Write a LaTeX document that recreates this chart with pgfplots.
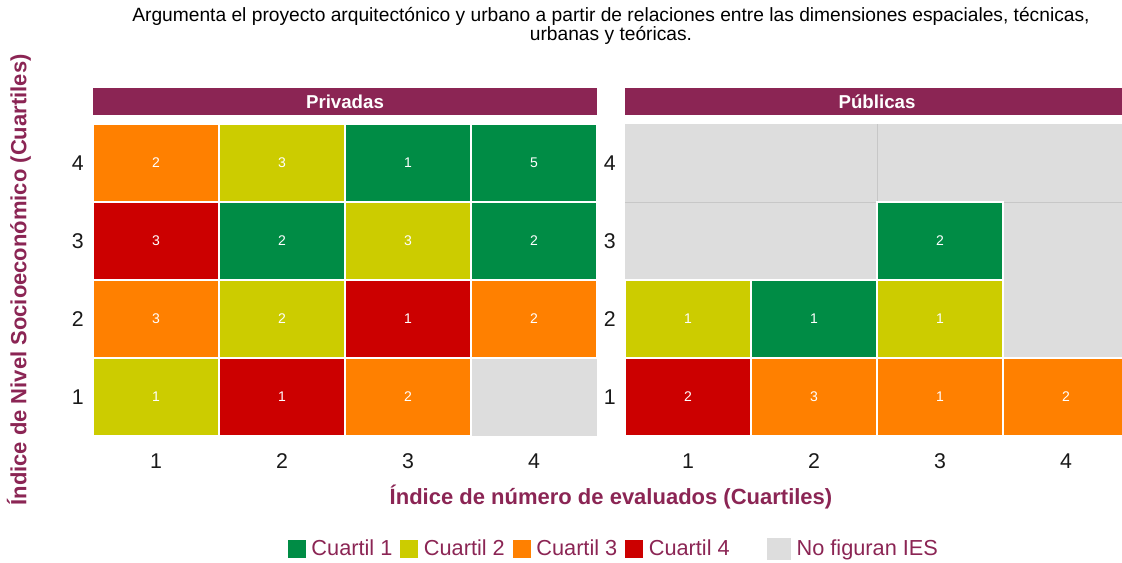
\documentclass[border=0pt]{standalone}
\usepackage{fontspec}
\setmainfont{Liberation Sans}
\usepackage{pgfplots}
\pgfplotsset{compat=1.18}
\usepackage{pgfplotstable}

\definecolor{qa}{HTML}{008C45}
\definecolor{qb}{HTML}{CCCC00}
\definecolor{qc}{HTML}{FF8000}
\definecolor{qd}{HTML}{CC0000}
\definecolor{nf}{HTML}{DDDDDD}
\definecolor{mar}{HTML}{8B2554}

\pgfdeclareplotmark{tile}{%
  \pgfpathrectangle{\pgfpoint{-47.25pt}{-29.25pt}}{\pgfpoint{94.5pt}{58.5pt}}%
  \pgfusepathqfillstroke}

% Privadas: x = evaluados quartile, y = socioeconomic quartile, cat = colour class, n = count
\pgfplotstableread{
x y cat n
1 4 c 2
2 4 b 3
3 4 a 1
4 4 a 5
1 3 d 3
2 3 a 2
3 3 b 3
4 3 a 2
1 2 c 3
2 2 b 2
3 2 d 1
4 2 c 2
1 1 b 1
2 1 d 1
3 1 c 2
}\priv

% Publicas
\pgfplotstableread{
x y cat n
3 3 a 2
1 2 b 1
2 2 a 1
3 2 b 1
1 1 d 2
2 1 c 3
3 1 c 1
4 1 c 2
}\publ

\pgfplotsset{
  tilepanel/.style={
    width=378pt, height=234pt, scale only axis,
    xmin=0.5, xmax=4.5, ymin=0.5, ymax=4.5,
    axis line style={draw=none}, tick style={draw=none}, major tick length=0pt,
    xtick={1,2,3,4}, ytick={1,2,3,4},
    /pgf/number format/assume math mode=true,
    tick label style={font=\fontsize{16}{18}\selectfont, text=black!90},
    xticklabel style={yshift=-9.75pt},
    yticklabel style={xshift=-3.5pt},
    axis background/.style={fill=nf},
    clip=false,
  },
  tileplot/.style={
    scatter, only marks, scatter src=explicit symbolic, forget plot,
    scatter/classes={
      a={mark=tile, fill=qa, draw=white, line width=1.5pt},
      b={mark=tile, fill=qb, draw=white, line width=1.5pt},
      c={mark=tile, fill=qc, draw=white, line width=1.5pt},
      d={mark=tile, fill=qd, draw=white, line width=1.5pt}},
  },
  countplot/.style={
    only marks, mark=none, forget plot, nodes near coords,
    point meta=explicit symbolic,
    nodes near coords style={anchor=center, text=white, font=\fontsize{10.5}{12}\selectfont},
  },
}

\begin{document}
\begin{tikzpicture}[x=0.75pt, y=0.75pt]
\path[use as bounding box, clip] (0,0) rectangle (1122,563);

% Title
\node[align=center, font=\fontsize{14.4}{13.5}\selectfont, text=black] at (611,537)
  {Argumenta el proyecto arquitectónico y urbano a partir de relaciones entre las dimensiones espaciales, técnicas,\\urbanas y teóricas.};

% Left panel
\begin{axis}[tilepanel, name=L, at={(69.75pt,95.25pt)}, anchor=south west,
  legend columns=5,
  legend style={at={(1.0317,-0.362)}, anchor=center, draw=none, fill=none,
    font=\fontsize{16.3}{18}\selectfont, text=mar,
    nodes={inner sep=0pt},
    /tikz/every odd column/.append style={column sep=4.5pt},
    /tikz/every even column/.append style={column sep=6pt}},
  ]
\addplot[tileplot] table[x=x, y=y, meta=cat] {\priv};
\addplot[countplot] table[x=x, y=y, meta=n] {\priv};
\addlegendimage{legend image code/.code={\fill[qa] (0pt,-6.4pt) rectangle (12.75pt,6.4pt);}}
\addlegendentry{Cuartil 1}
\addlegendimage{legend image code/.code={\fill[qb] (0pt,-6.4pt) rectangle (12.75pt,6.4pt);}}
\addlegendentry{Cuartil 2}
\addlegendimage{legend image code/.code={\fill[qc] (0pt,-6.4pt) rectangle (12.75pt,6.4pt);}}
\addlegendentry{Cuartil 3}
\addlegendimage{legend image code/.code={\fill[qd] (0pt,-6.4pt) rectangle (12.75pt,6.4pt);}}
\addlegendentry{Cuartil 4\rule{22pt}{0pt}}
\addlegendimage{legend image code/.code={\fill[nf] (0pt,-8pt) rectangle (17.25pt,8pt);}}
\addlegendentry{No figuran IES}
\end{axis}

% Right panel
\begin{axis}[tilepanel, name=R, at={(468.75pt,95.25pt)}, anchor=south west]
\draw[color=black!22, line width=0.6pt] (axis cs:0.5,3.5) -- (axis cs:4.5,3.5);
\draw[color=black!22, line width=0.6pt] (axis cs:2.5,3.5) -- (axis cs:2.5,4.5);
\draw[color=black!22, line width=0.6pt] (axis cs:3.5,1.5) -- (axis cs:4.5,1.5);
\addplot[tileplot] table[x=x, y=y, meta=cat] {\publ};
\addplot[countplot] table[x=x, y=y, meta=n] {\publ};
\end{axis}

% Strips
\fill[mar] (93,448) rectangle (597,475);
\node[font=\bfseries\fontsize{14}{16}\selectfont, text=white] at (345,461.5) {Privadas};
\fill[mar] (625,448) rectangle (1129,475);
\node[font=\bfseries\fontsize{14}{16}\selectfont, text=white] at (877,461.5) {Públicas};

% Axis titles
\node[font=\bfseries\fontsize{16.5}{18}\selectfont, text=mar] at (611,66)
  {Índice de número de evaluados (Cuartiles)};
\node[font=\bfseries\fontsize{16.5}{18}\selectfont, text=mar, rotate=90] at (19,283)
  {Índice de Nivel Socioeconómico (Cuartiles)};
\end{tikzpicture}
\end{document}
